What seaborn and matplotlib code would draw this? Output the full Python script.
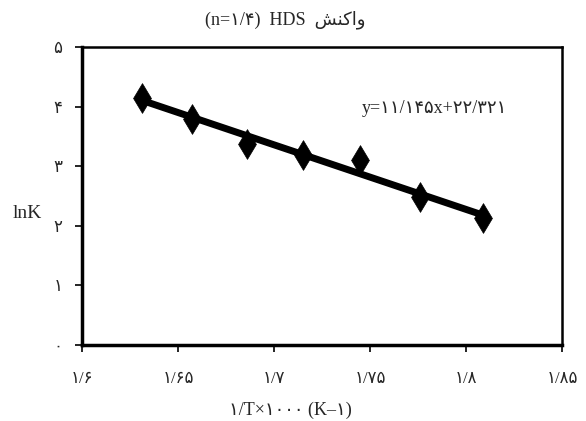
import matplotlib
matplotlib.use("Agg")
import matplotlib.pyplot as plt
import seaborn as sns
import pandas as pd

# data
inv_T = [1.6313, 1.6573, 1.6859, 1.7151, 1.7448, 1.7760, 1.8089]
lnK = [4.15, 3.80, 3.38, 3.18, 3.10, 2.48, 2.13]
x_ticks = [1.60, 1.65, 1.70, 1.75, 1.80, 1.85]
x_tick_labels = ["۱/۶", "۱/۶۵", "۱/۷", "۱/۷۵", "۱/۸", "۱/۸۵"]
y_ticks = [0, 1, 2, 3, 4, 5]
y_tick_labels = ["۰", "۱", "۲", "۳", "۴", "۵"]
title_text = "(n=۱/۴)  HDS  " + "\uFEB6\uFEE8\uFB90\uFE8D\uFEED"
equation_text = "y=۱۱/۱۴۵x+۲۲/۳۲۱"
x_label = "۱/T×۱۰۰۰ (K–۱)"
y_label = "lnK"

df = pd.DataFrame({"x": inv_T, "y": lnK})

sns.set_theme(style="white")
fam = ["Liberation Serif", "DejaVu Sans"]
plt.rcParams["font.family"] = fam

fig = plt.figure(figsize=(5.86, 4.21), dpi=100)
ax = fig.add_axes([82 / 586, 1 - 345 / 421, 480 / 586, 298 / 421])

sns.regplot(data=df, x="x", y="y", ci=None, scatter=False, ax=ax,
            line_kws=dict(color="black", lw=5.0, solid_capstyle="butt"))
sns.scatterplot(data=df, x="x", y="y", ax=ax, marker="d", s=230,
                color="black", edgecolor="black", linewidth=0.5, zorder=5)

ax.set_xlim(1.6, 1.85)
ax.set_ylim(0, 5)
ax.set_xticks(x_ticks)
ax.set_xticklabels(x_tick_labels, fontsize=12)
ax.set_yticks(y_ticks)
ax.set_yticklabels(y_tick_labels, fontsize=12)
ax.set_xlabel("")
ax.set_ylabel("")
ax.tick_params(axis="both", direction="out", length=5, width=1.2, color="black",
               left=True, bottom=True)
ax.tick_params(axis="y", pad=9)
ax.tick_params(axis="x", pad=14)

for side, lw in [("left", 2.5), ("bottom", 2.5), ("top", 1.8), ("right", 1.8)]:
    ax.spines[side].set_visible(True)
    ax.spines[side].set_color("black")
    ax.spines[side].set_linewidth(lw)

ax.text(280 / 480, 0.795, equation_text, transform=ax.transAxes, fontsize=13,
        ha="left", va="center", family=fam)

fig.text(285 / 586, 1 - 20 / 421, title_text, ha="center", va="center",
         fontsize=13, family=fam)
fig.text(290 / 586, 1 - 410 / 421, x_label, ha="center", va="center",
         fontsize=13, family=fam)
fig.text(27 / 586, 1 - 213 / 421, y_label, ha="center", va="center",
         fontsize=14, family=fam)

fig.savefig("out.png", dpi=100, facecolor="white")
